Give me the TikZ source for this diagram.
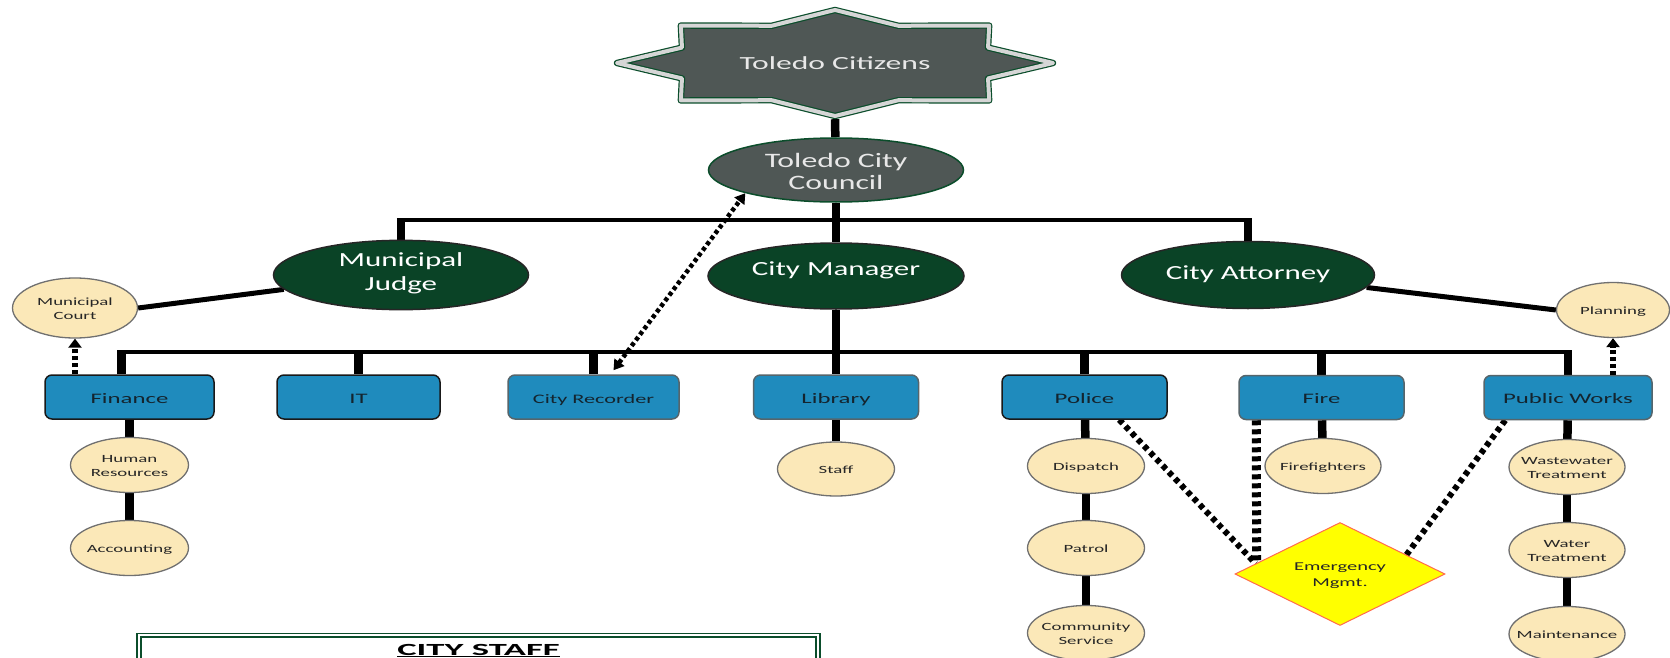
\documentclass[tikz,border=0pt]{standalone}
\usepackage{fontspec}
\setmainfont[FakeStretch=1.71]{Carlito}
\newfontfamily\ellfont[FakeStretch=1.55]{Carlito}
\newfontfamily\stafffont[FakeStretch=2.15]{Carlito}
\usetikzlibrary{shapes.geometric,arrows.meta,calc,backgrounds}
\definecolor{stargray}{HTML}{4F5755}
\definecolor{dkgreen}{HTML}{0B4D2B}
\definecolor{ellgreen}{HTML}{0A4326}
\definecolor{boxblue}{HTML}{1F8BBD}
\definecolor{boxtext}{HTML}{14242E}
\definecolor{boxline}{HTML}{56656B}
\definecolor{cream}{HTML}{FBE8B8}
\definecolor{creamline}{HTML}{707070}
\definecolor{bandgray}{HTML}{D6D6D6}
\definecolor{emyellow}{HTML}{FFFF00}
\definecolor{emred}{HTML}{FF6A4D}
\definecolor{lighttext}{HTML}{E8E8E8}
\newcommand{\zw}[1]{\makebox[0pt][c]{\raisebox{-1.5pt}[\height][\depth]{\begin{tabular}{@{}c@{}}#1\end{tabular}}}}
\newcommand{\zwd}[2]{\makebox[0pt][c]{\raisebox{#1}[\height][\depth]{\begin{tabular}{@{}c@{}}#2\end{tabular}}}}
\newcommand\szbig{\fontsize{18.5}{22.5}\selectfont}
\newcommand\szell{\ellfont\fontsize{20}{24.5}\selectfont}
\newcommand\szcou{\ellfont\fontsize{20.5}{21.5}\selectfont}
\newcommand\szbox{\fontsize{14.5}{17}\selectfont}
\newcommand\szrec{\fontsize{13}{15}\selectfont}
\newcommand\szsmall{\fontsize{11}{14.5}\selectfont}
\newcommand\szem{\fontsize{12}{15.5}\selectfont}
\newcommand\szstaff{\stafffont\fontsize{17}{20}\selectfont\bfseries}
\tikzset{
 ellg/.style={ellipse, draw=black!85, line width=1.5pt, fill=ellgreen, text=white, inner sep=0pt, minimum width=255pt, minimum height=66pt, font=\szell},
 dept/.style={rectangle, rounded corners=7pt, draw=boxline, line width=1.5pt, fill=boxblue, text=boxtext, inner sep=0pt, minimum height=44pt, text height=12pt, text depth=0pt, font=\szbox},
 darkline/.style={draw=black!90},
 unit/.style={ellipse, draw=creamline, line width=1.3pt, fill=cream, text=black!85, inner sep=0pt, minimum width=117pt, minimum height=55pt, font=\szsmall},
 vl/.style={line width=8.5pt},
 hl/.style={line width=4.5pt},
 dl/.style={line width=5pt},
 dotarrow/.style={line width=6pt, dash pattern=on 4pt off 3pt, -{Triangle[width=13pt,length=9pt]}},
 dotarrowtwo/.style={line width=4.5pt, dash pattern=on 4pt off 3pt, {Triangle[width=12pt,length=10pt]}-{Triangle[width=12pt,length=10pt]}},
 emline/.style={line width=6pt, dash pattern=on 5pt off 4pt},
}
\begin{document}
\begin{tikzpicture}[x=1pt,y=-1pt]
\useasboundingbox (0,0) rectangle (1670,658);
% star
\begin{scope}[shift={(835,63)}, x=218pt, y=53pt]
\draw[fill=stargray, draw=dkgreen, double=bandgray, double distance=4pt, line width=1.2pt, line join=round]
 (0:1) -- (22.5:0.76) -- (45:1) -- (67.5:0.76) -- (90:1) -- (112.5:0.76) -- (135:1) -- (157.5:0.76)
 -- (180:1) -- (202.5:0.76) -- (225:1) -- (247.5:0.76) -- (270:1) -- (292.5:0.76) -- (315:1) -- (337.5:0.76) -- cycle;
\end{scope}
\node[inner sep=0pt, minimum width=442pt, minimum height=112pt, text=lighttext, font=\szbig] (cit) at (835,63) {Toledo Citizens};
\node[ellipse, draw=dkgreen, line width=1.5pt, fill=stargray, text=lighttext, inner sep=0pt, minimum width=255pt, minimum height=64pt, font=\szcou] (cou) at (836,170) {\zwd{-4.4pt}{Toledo City\\Council}};
% level 2
\node[ellg] (jud) at (401,275) {\zwd{1.6pt}{Municipal\\Judge}};
\node[ellg, minimum width=256pt] (mgr) at (836,276) {\zwd{5pt}{City Manager}};
\node[ellg, minimum width=253pt, minimum height=67pt] (att) at (1248,275) {\zwd{0.6pt}{City Attorney}};
\node[unit, minimum width=125pt, minimum height=60pt] (crt) at (75,308) {\zw{Municipal\\Court}};
\node[unit, minimum width=113pt] (pla) at (1613,310) {\zw{Planning}};
% departments
\node[dept, darkline, minimum width=169pt] (fin) at (129.5,397) {Finance};
\node[dept, darkline, minimum width=163pt] (it) at (358.5,397) {IT};
\node[dept, minimum width=171pt, font=\szrec] (rec) at (593.5,397) {City Recorder};
\node[dept, minimum width=165pt] (lib) at (836,397) {Library};
\node[dept, darkline, minimum width=165pt] (pol) at (1084.5,397) {Police};
\node[dept, minimum width=165pt] (fire) at (1321.5,397.5) {Fire};
\node[dept, minimum width=168pt] (pw) at (1568,397.5) {Public Works};
% units
\node[unit, minimum width=118pt] (hr) at (129.5,465) {\zw{Human\\Resources}};
\node[unit, minimum width=118pt] (acc) at (129.5,548) {\zw{Accounting}};
\node[unit, minimum height=54pt] (stf) at (836,469) {\zw{Staff}};
\node[unit] (dis) at (1086,466) {\zw{Dispatch}};
\node[unit] (pat) at (1086,548) {\zw{Patrol}};
\node[unit] (com) at (1086,633) {\zw{Community\\Service}};
\node[unit, minimum width=116pt] (ffi) at (1323,466) {\zw{Firefighters}};
\node[unit, minimum width=116pt] (ww) at (1567,467) {\zw{Wastewater\\Treatment}};
\node[unit, minimum width=116pt] (wat) at (1567,550) {\zw{Water\\Treatment}};
\node[unit, minimum width=116pt] (mai) at (1567,634) {\zw{Maintenance}};
\node[diamond, shape aspect=2, draw=emred, line width=1pt, fill=emyellow, inner sep=0pt, minimum width=210pt, minimum height=103pt, font=\szem, text=black!85] (em) at (1340,574) {\zw{Emergency\\Mgmt.}};
% city staff box
\node[draw=dkgreen, double=white, double distance=2.5pt, line width=1.3pt, minimum width=679pt, anchor=north, inner ysep=9pt, text height=11pt, text depth=40pt, font=\szstaff] (cs) at (478.5,634.5) {\underline{CITY STAFF}};
\coordinate (b1) at (836,220);
\coordinate (b2) at (836,352);
\begin{pgfonlayer}{background}
\fill[white] (0,0) rectangle (1670,658);
\draw[vl] (cit.south) -- (cou);
\draw[vl] (cou) -- (mgr);
\draw[vl] (mgr) -- (lib);
\draw[hl] ($(jud.north |- b1)+(-4.25,0)$) -- ($(att.north |- b1)+(4.25,0)$);
\draw[vl] (jud.north) -- ($(jud.north |- b1)+(0,-2.25)$);
\draw[vl] (att.north) -- ($(att.north |- b1)+(0,-2.25)$);
\draw[dl] (jud.187) -- (crt.east);
\draw[dl] (att.354) -- (pla.west);
\draw[hl] ($(fin.north |- b2)+(-12.25,0)$) -- ($(pw.north |- b2)+(4.25,0)$);
\draw[vl] ($(fin.north)+(-8,0)$) -- ($(fin.north |- b2)+(-8,-2.25)$);
\draw[vl] (it.north) -- ($(it.north |- b2)+(0,-2.25)$);
\draw[vl] (rec.north) -- ($(rec.north |- b2)+(0,-2.25)$);
\draw[vl] (pol.north) -- ($(pol.north |- b2)+(0,-2.25)$);
\draw[vl] (fire.north) -- ($(fire.north |- b2)+(0,-2.25)$);
\draw[vl] (pw.north) -- ($(pw.north |- b2)+(0,-2.25)$);
\draw[vl] (fin) -- (hr);
\draw[vl] (hr) -- (acc);
\draw[vl] (lib) -- (stf);
\draw[vl] (pol) -- (dis);
\draw[vl] (dis) -- (pat);
\draw[vl] (pat) -- (com);
\draw[vl] (fire) -- (ffi);
\draw[vl] (pw) -- (ww);
\draw[vl] (ww) -- (wat);
\draw[vl] (wat) -- (mai);
\draw[emline] ($(pol.south west)+(118,0)$) -- ($(em.west)!0.2!(em.north)$);
\draw[emline, line width=9pt] ($(fire.south west)+(18,0)$) -- ($(em.west)!0.21!(em.north)$);
\draw[emline] ($(pw.south west)+(22,0)$) -- ($(em.east)!0.37!(em.north)$);
\end{pgfonlayer}
\draw[dotarrow] (crt.south |- fin.north) -- (crt.south);
\draw[dotarrow] (pla.south |- pw.north) -- (pla.south);
\draw[dotarrowtwo] ($(rec.north)+(20,-4)$) -- (cou.south west);
\end{tikzpicture}
\end{document}
